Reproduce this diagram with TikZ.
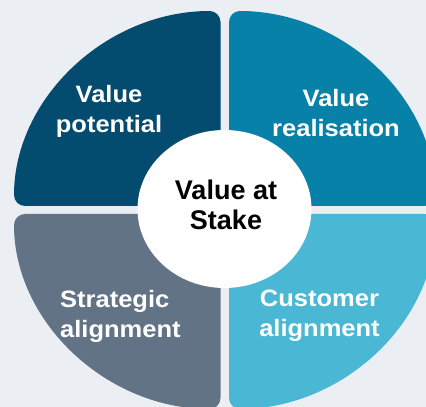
\documentclass[tikz,border=0pt]{standalone}
\usepackage{fontspec}
\setmainfont{Liberation Sans}
\usepackage{xcolor}
\definecolor{potblue}{HTML}{044B70}
\definecolor{realteal}{HTML}{0781A7}
\definecolor{stratgrey}{HTML}{627386}
\definecolor{custcyan}{HTML}{4AB8D4}
\definecolor{bgpale}{HTML}{EBEEF3}

\begin{document}
\begin{tikzpicture}[x=1pt,y=1pt,
  quad/.style={rounded corners=11pt},
  lbl/.style={text=white,font=\fontsize{25.5}{32.5}\selectfont\bfseries,yscale=0.93,inner sep=0pt},
  hub/.style={text=black,font=\fontsize{27}{30}\selectfont\bfseries,align=center,inner sep=0pt}]
\fill[bgpale](0,0) rectangle (426,407);
\useasboundingbox (0,0) rectangle (426,407);
\clip (0,0) rectangle (426,407);
\fill[potblue,quad](220.5,201)--(220.5,396) arc[start angle=90,end angle=180,x radius=206.5,y radius=195]--cycle;
\fill[realteal,quad](229,201)--(229,396) arc[start angle=90,end angle=0,x radius=206.5,y radius=195]--cycle;
\fill[stratgrey,quad](220.5,193)--(14,193) arc[start angle=180,end angle=270,x radius=206.5,y radius=195]--cycle;
\fill[custcyan,quad](229,193)--(435.5,193) arc[start angle=0,end angle=-90,x radius=206.5,y radius=195]--cycle;
\fill[white](224.5,198) ellipse[x radius=87,y radius=79];
\node[lbl,align=center] (potential) at (109,295.5){Value\\potential};
\node[lbl,align=center] (realisation) at (336,294){Value\\realisation};
\node[lbl,align=left,anchor=west] (strategic) at (60,90.5){Strategic\\alignment};
\node[lbl,align=center] (customer) at (319.5,91.5){Customer\\alignment};
\node[hub] (stake) at (226,202){Value at\\Stake};
\end{tikzpicture}
\end{document}
